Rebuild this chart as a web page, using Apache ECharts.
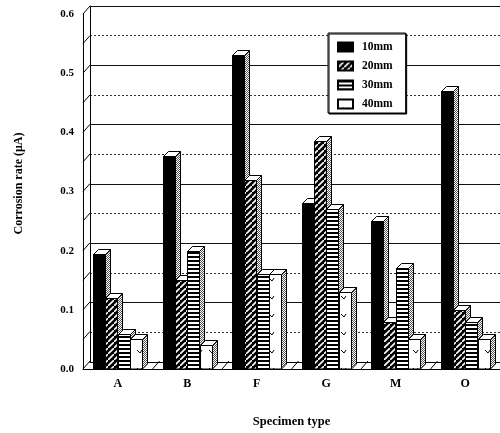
<!DOCTYPE html>
<html><head><meta charset="utf-8">
<script src="https://cdn.jsdelivr.net/npm/echarts@6/dist/echarts.min.js"></script>
<style>html,body{margin:0;padding:0;background:#fff}#c{width:500px;height:433px}</style>
</head><body><div id="c"></div>
<script>
// ---- data ----
const categories = ['A', 'B', 'F', 'G', 'M', 'O'];
const seriesNames = ['10mm', '20mm', '30mm', '40mm'];
const v10mm = [0.195, 0.36, 0.53, 0.28, 0.25, 0.47];
const v20mm = [0.12, 0.15, 0.32, 0.385, 0.08, 0.10];
const v30mm = [0.06, 0.20, 0.16, 0.27, 0.17, 0.08];
const v40mm = [0.05, 0.04, 0.16, 0.13, 0.05, 0.05];
const wallTicks = [0, 0.05, 0.1, 0.15, 0.2, 0.25, 0.3, 0.35, 0.4, 0.45, 0.5, 0.55, 0.6];
const floorBounds = [1, 2, 3, 4, 5];
const yMin = 0, yMax = 0.6, yStep = 0.1;

// ---- styling helpers ----
function pat(w, h, draw) {
  const c = document.createElement('canvas'); c.width = w; c.height = h;
  const g = c.getContext('2d'); draw(g); return { image: c, repeat: 'repeat' };
}
const fill10 = '#000';
const fill20 = pat(6, 6, g => {
  g.fillStyle = '#000'; g.fillRect(0, 0, 6, 6);
  g.strokeStyle = '#fff'; g.lineWidth = 1.6;
  g.beginPath(); g.moveTo(-1, 7); g.lineTo(7, -1); g.stroke();
});
const fill30 = pat(4, 4, g => {
  g.fillStyle = '#fff'; g.fillRect(0, 0, 4, 4);
  g.fillStyle = '#000'; g.fillRect(0, 0, 4, 2);
});
const fill40 = pat(12, 18, g => {
  g.fillStyle = '#fff'; g.fillRect(0, 0, 12, 18);
  g.strokeStyle = '#000'; g.lineWidth = 1;
  g.beginPath(); g.moveTo(5, 8); g.lineTo(8, 11); g.lineTo(10, 8); g.stroke();
});
const sidePat = pat(2, 2, g => {
  g.fillStyle = '#fff'; g.fillRect(0, 0, 2, 2);
  g.fillStyle = '#555'; g.fillRect(0, 0, 1, 1); g.fillRect(1, 1, 1, 1);
});
const fills = [fill10, fill20, fill30, fill40];
const seriesData = [v10mm, v20mm, v30mm, v40mm];
const font = { fontFamily: 'Liberation Serif', fontWeight: 'bold', color: '#000' };
const DX = 7, DY = 8, BD = 5;

function barRender(si) {
  return function (params, api) {
    const ci = api.value(0), v = api.value(1);
    const base = api.coord([ci, 0]);
    const top = api.coord([ci, v]);
    const bandW = api.size([1, 0])[0];
    const bw = bandW * 0.178;
    const x = Math.round(base[0] - 2 * bw + si * bw) + 0.5;
    const y0 = base[1], y1 = Math.round(top[1]) + 0.5;
    const w = Math.round(bw);
    return { type: 'group', children: [
      { type: 'polygon', shape: { points: [[x + w, y1], [x + w + BD, y1 - BD], [x + w + BD, y0 - BD], [x + w, y0]] },
        style: { fill: sidePat, stroke: '#000', lineWidth: 1 } },
      { type: 'polygon', shape: { points: [[x, y1], [x + BD, y1 - BD], [x + w + BD, y1 - BD], [x + w, y1]] },
        style: { fill: '#fff', stroke: '#000', lineWidth: 1 } },
      { type: 'rect', shape: { x: x, y: y1, width: w, height: y0 - y1 },
        style: { fill: fills[si], stroke: '#000', lineWidth: 1 } }
    ] };
  };
}

const series = seriesNames.map((name, si) => ({
  name: name, type: 'custom', xAxisIndex: 0, yAxisIndex: 0,
  itemStyle: { color: fills[si], borderColor: '#000', borderWidth: 1 },
  renderItem: barRender(si),
  encode: { x: 0, y: 1 },
  data: seriesData[si].map((v, i) => [i, v]),
  z: 5
}));
// left wall diagonals
series.push({
  type: 'custom', xAxisIndex: 0, yAxisIndex: 0, silent: true, z: 3,
  renderItem: function (params, api) {
    const p = api.coord([0, api.value(1)]);
    const x0 = p[0] - api.size([1, 0])[0] / 2;
    return { type: 'line', shape: { x1: x0, y1: p[1], x2: x0 + DX, y2: p[1] - DY },
      style: { stroke: '#000', lineWidth: 1 } };
  },
  data: wallTicks.map(v => [0, v])
});
// floor separators
series.push({
  type: 'custom', xAxisIndex: 0, yAxisIndex: 0, silent: true, z: 3,
  renderItem: function (params, api) {
    const p = api.coord([api.value(0), 0]);
    const x0 = p[0] - api.size([1, 0])[0] / 2;
    return { type: 'line', shape: { x1: x0, y1: p[1], x2: x0 + DX, y2: p[1] - DY },
      style: { stroke: '#000', lineWidth: 1 } };
  },
  data: floorBounds.map(i => [i, 0])
});

const chart = echarts.init(document.getElementById('c'), null, { renderer: 'canvas' });
chart.setOption({
  animation: false,
  backgroundColor: '#fff',
  legend: {
    data: seriesNames, orient: 'vertical', left: 328, top: 33,
    backgroundColor: '#fff', borderColor: '#000', borderWidth: 1,
    shadowColor: '#000', shadowOffsetX: 1, shadowOffsetY: 1, shadowBlur: 0,
    padding: [8, 13, 3, 9], itemGap: 7, itemWidth: 15, itemHeight: 9, icon: 'rect',
    textStyle: Object.assign({ fontSize: 11.5, padding: [0, 0, 0, 4] }, font),
    selectedMode: false
  },
  grid: [
    { left: 83, right: -3, top: 14, bottom: 63 },
    { left: 83 + DX, right: -3 - DX, top: 14 - DY, bottom: 63 + DY }
  ],
  xAxis: [
    { type: 'category', gridIndex: 0, data: categories,
      axisLine: { lineStyle: { color: '#000', width: 1 } }, axisTick: { show: false },
      axisLabel: Object.assign({ fontSize: 12, margin: 9 }, font),
      name: 'Specimen type', nameLocation: 'middle', nameGap: 46,
      nameTextStyle: Object.assign({ fontSize: 12.5 }, font) },
    { type: 'category', gridIndex: 1, data: categories,
      axisLine: { lineStyle: { color: '#000', width: 1 } }, axisTick: { show: false }, axisLabel: { show: false } }
  ],
  yAxis: [
    { type: 'value', gridIndex: 0, min: yMin, max: yMax, interval: yStep,
      axisLine: { show: true, lineStyle: { color: '#000', width: 1 } }, axisTick: { show: false },
      splitLine: { show: false },
      axisLabel: Object.assign({ fontSize: 11, margin: 9, formatter: v => v.toFixed(1) }, font),
      name: 'Corrosion rate (μA)', nameLocation: 'middle', nameGap: 58,
      nameTextStyle: Object.assign({ fontSize: 12, padding: [0, 0, 0, 16] }, font) },
    { type: 'value', gridIndex: 1, min: yMin, max: yMax, interval: yStep,
      axisLine: { show: true, lineStyle: { color: '#000', width: 1 } }, axisTick: { show: false },
      axisLabel: { show: false },
      splitLine: { show: true, lineStyle: { color: '#111', width: 1 } },
      minorTick: { show: false, splitNumber: 2 },
      minorSplitLine: { show: true, lineStyle: { color: '#333', width: 1, type: [2, 2] } } }
  ],
  series: series
});
</script></body></html>
